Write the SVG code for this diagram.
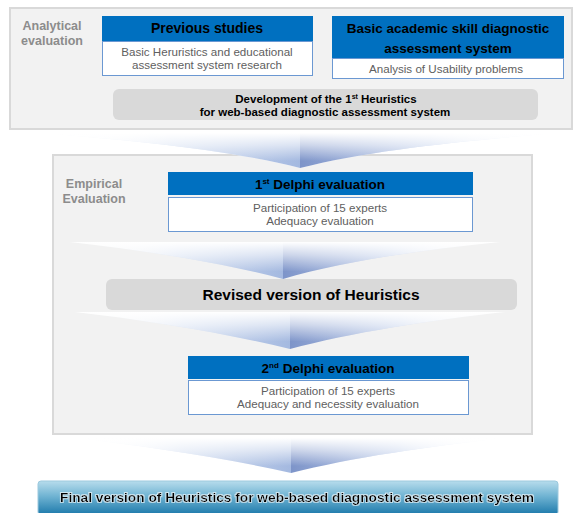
<svg xmlns="http://www.w3.org/2000/svg" width="577" height="513" viewBox="0 0 577 513">
<defs>
<style>
.frame{fill:#f2f2f2;stroke:#d9d9d9;stroke-width:2}
.hdr{fill:#0070c0}
.box{fill:#ffffff;stroke:#6b98d2;stroke-width:1}
.bar{fill:#d9d9d9}
.t{font-family:"Liberation Sans","Noto Sans",Arial,sans-serif;text-anchor:middle}
.hb{font-weight:bold;fill:#000}
.sm{font-size:11.6px;fill:#606060}
.lab{font-family:"Liberation Sans","Noto Sans",Arial,sans-serif;font-weight:bold;font-size:12.5px;fill:#8c8c8c;text-anchor:middle}
</style>
<linearGradient id="vfade" x1="0" y1="0" x2="0" y2="1">
<stop offset="0" stop-color="#ffffff" stop-opacity="1"/>
<stop offset="0.35" stop-color="#ffffff" stop-opacity="0.6"/>
<stop offset="0.8" stop-color="#ffffff" stop-opacity="0"/>
</linearGradient>
<linearGradient id="finalg" x1="0" y1="0" x2="0" y2="1">
<stop offset="0" stop-color="#b7dcec"/>
<stop offset="0.45" stop-color="#6fb3d2"/>
<stop offset="1" stop-color="#1c78aa"/>
</linearGradient>
<filter id="glow" x="-5%" y="-30%" width="110%" height="160%">
<feMorphology in="SourceAlpha" operator="dilate" radius="0.8" result="d"/>
<feFlood flood-color="#ffffff" flood-opacity="0.6"/>
<feComposite in2="d" operator="in" result="w"/>
<feMerge><feMergeNode in="w"/><feMergeNode in="SourceGraphic"/></feMerge>
</filter>
<linearGradient id="al1" gradientUnits="userSpaceOnUse" x1="40" y1="0" x2="300" y2="0"><stop offset="0" stop-color="#ffffff" stop-opacity="0"/><stop offset="0.5" stop-color="#d3def1"/><stop offset="1" stop-color="#a4b9e0"/></linearGradient>
<linearGradient id="ar1" gradientUnits="userSpaceOnUse" x1="300" y1="0" x2="560" y2="0"><stop offset="0" stop-color="#7d94c9"/><stop offset="0.5" stop-color="#c3d1ec"/><stop offset="1" stop-color="#ffffff" stop-opacity="0"/></linearGradient>
<linearGradient id="al2" gradientUnits="userSpaceOnUse" x1="70" y1="0" x2="283" y2="0"><stop offset="0" stop-color="#ffffff" stop-opacity="0"/><stop offset="0.5" stop-color="#d3def1"/><stop offset="1" stop-color="#a4b9e0"/></linearGradient>
<linearGradient id="ar2" gradientUnits="userSpaceOnUse" x1="283" y1="0" x2="500" y2="0"><stop offset="0" stop-color="#7d94c9"/><stop offset="0.5" stop-color="#c3d1ec"/><stop offset="1" stop-color="#ffffff" stop-opacity="0"/></linearGradient>
<linearGradient id="al3" gradientUnits="userSpaceOnUse" x1="75" y1="0" x2="290" y2="0"><stop offset="0" stop-color="#ffffff" stop-opacity="0"/><stop offset="0.5" stop-color="#d3def1"/><stop offset="1" stop-color="#a4b9e0"/></linearGradient>
<linearGradient id="ar3" gradientUnits="userSpaceOnUse" x1="290" y1="0" x2="505" y2="0"><stop offset="0" stop-color="#7d94c9"/><stop offset="0.5" stop-color="#c3d1ec"/><stop offset="1" stop-color="#ffffff" stop-opacity="0"/></linearGradient>
<linearGradient id="al4" gradientUnits="userSpaceOnUse" x1="75" y1="0" x2="291" y2="0"><stop offset="0" stop-color="#ffffff" stop-opacity="0"/><stop offset="0.5" stop-color="#d3def1"/><stop offset="1" stop-color="#a4b9e0"/></linearGradient>
<linearGradient id="ar4" gradientUnits="userSpaceOnUse" x1="291" y1="0" x2="505" y2="0"><stop offset="0" stop-color="#7d94c9"/><stop offset="0.5" stop-color="#c3d1ec"/><stop offset="1" stop-color="#ffffff" stop-opacity="0"/></linearGradient>
</defs>

<g id="analytical-frame">
<rect class="frame" x="10" y="8" width="562" height="121"/>
<text class="lab" x="52" y="30">Analytical</text>
<text class="lab" x="52" y="45">evaluation</text>
</g>

<g id="previous-studies">
<rect class="hdr" x="102" y="16" width="211" height="25"/>
<text class="t hb" x="207" y="33" font-size="14">Previous studies</text>
<rect class="box" x="102.5" y="41.5" width="210" height="34"/>
<text class="t sm" x="207" y="56">Basic Heruristics and educational</text>
<text class="t sm" x="207" y="69">assessment system research</text>
</g>

<g id="basic-academic">
<rect class="hdr" x="332" y="16" width="232" height="42"/>
<text class="t hb" x="448" y="33" font-size="13.5">Basic academic skill diagnostic</text>
<text class="t hb" x="448" y="53" font-size="13.5">assessment system</text>
<rect class="box" x="332.5" y="58.5" width="231" height="20"/>
<text class="t sm" x="446" y="73">Analysis of Usability problems</text>
</g>

<g id="development">
<rect class="bar" x="113" y="89" width="425" height="31" rx="6"/>
<text class="t hb" x="326" y="103" font-size="11.5">Development of the 1<tspan font-size="7" dy="-4">st</tspan><tspan dy="4"> Heuristics</tspan></text>
<text class="t hb" x="325" y="116" font-size="11.5">for web-based diagnostic assessment system</text>
</g>

<g id="empirical-frame">
<rect class="frame" x="53" y="155" width="479" height="279"/>
<text class="lab" x="94" y="188">Empirical</text>
<text class="lab" x="94" y="203">Evaluation</text>
</g>

<g id="connectors">
<g id="arrow1">
<path d="M40,133 L560,133 C470,140 370,150 300,168 C230,150 130,140 40,133 Z" fill="#ffffff"/>
<path d="M40,133 L300,133 L300,168 C230,150 130,140 40,133 Z" fill="url(#al1)"/>
<path d="M300,133 L560,133 C470,140 370,150 300,168 Z" fill="url(#ar1)"/>
<path d="M40,133 L560,133 C470,140 370,150 300,168 C230,150 130,140 40,133 Z" fill="url(#vfade)"/>
</g>
<g id="arrow2">
<path d="M70,242 L283,242 L283,279 C220,262 140,250 70,242 Z" fill="url(#al2)"/>
<path d="M283,242 L500,242 C420,250 340,262 283,279 Z" fill="url(#ar2)"/>
<path d="M70,242 L500,242 C420,250 340,262 283,279 C220,262 140,250 70,242 Z" fill="url(#vfade)"/>
</g>
<g id="arrow3">
<path d="M75,312 L290,312 L290,349 C225,333 145,320 75,312 Z" fill="url(#al3)"/>
<path d="M290,312 L505,312 C430,320 350,333 290,349 Z" fill="url(#ar3)"/>
<path d="M75,312 L505,312 C430,320 350,333 290,349 C225,333 145,320 75,312 Z" fill="url(#vfade)"/>
</g>
<g id="arrow4">
<path d="M75,438 L291,438 L291,473 C225,458 145,446 75,438 Z" fill="url(#al4)"/>
<path d="M291,438 L505,438 C430,446 350,458 291,473 Z" fill="url(#ar4)"/>
<path d="M75,438 L505,438 C430,446 350,458 291,473 C225,458 145,446 75,438 Z" fill="url(#vfade)"/>
</g>
</g>

<g id="delphi1">
<rect class="hdr" x="168" y="172" width="305" height="23"/>
<text class="t hb" x="320" y="189" font-size="13.5">1<tspan font-size="8" dy="-5">st</tspan><tspan dy="5"> Delphi evaluation</tspan></text>
<rect class="box" x="168.5" y="197.5" width="304" height="34"/>
<text class="t sm" x="320" y="212">Participation  of 15 experts</text>
<text class="t sm" x="320" y="225">Adequacy evaluation</text>
</g>

<g id="revised">
<rect class="bar" x="106" y="279" width="411" height="31" rx="6"/>
<text class="t hb" x="311" y="300" font-size="15.5">Revised version of Heuristics</text>
</g>

<g id="delphi2">
<rect class="hdr" x="188" y="356" width="281" height="23"/>
<text class="t hb" x="328" y="373" font-size="13.5">2<tspan font-size="8" dy="-5">nd</tspan><tspan dy="5"> Delphi evaluation</tspan></text>
<rect class="box" x="188.5" y="380.5" width="280" height="34"/>
<text class="t sm" x="328" y="395">Participation  of 15 experts</text>
<text class="t sm" x="328" y="408">Adequacy and necessity evaluation</text>
</g>

<g id="final">
<rect x="38" y="481" width="520" height="34" rx="3" fill="url(#finalg)" stroke="#9cc9de" stroke-width="1"/>
<text class="t hb" x="297" y="502" font-size="13.5" textLength="474" lengthAdjust="spacingAndGlyphs" filter="url(#glow)">Final version of Heuristics for web-based diagnostic assessment system</text>
</g>
</svg>
